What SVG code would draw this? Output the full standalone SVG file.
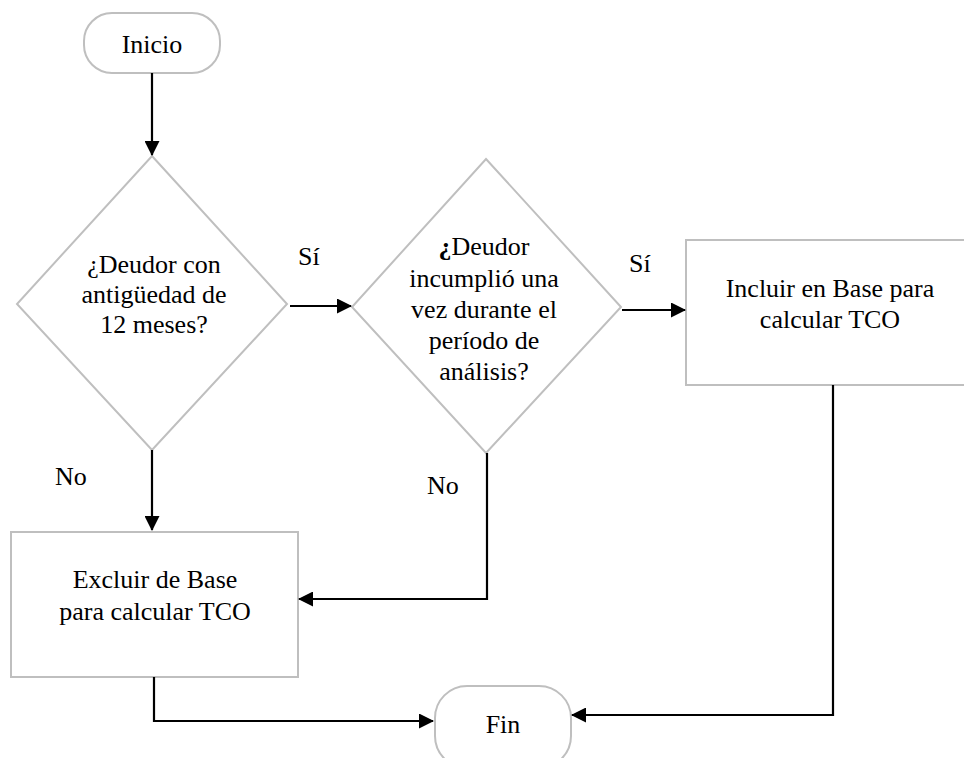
<svg xmlns="http://www.w3.org/2000/svg" width="964" height="758" viewBox="0 0 964 758">
<defs>
<marker id="ah" markerWidth="15" markerHeight="15" refX="14" refY="7.5" orient="auto" markerUnits="userSpaceOnUse">
<path d="M0,0 L15,7.5 L0,15 Z" fill="#000"/>
</marker>
<style>
.shape{fill:#fff;stroke:#bfbfbf;stroke-width:2}
.conn{fill:none;stroke:#000;stroke-width:2.2}
.t{font-size:26px;fill:#000}
.c{text-anchor:middle}
</style>
</defs>
<rect width="964" height="758" fill="#fff"/>
<g font-family="'Liberation Serif', 'Times New Roman', 'DejaVu Serif', serif">
<g id="inicio">
<rect class="shape" x="84" y="13" width="136" height="60" rx="28" ry="28"/>
<text class="t c" x="152" y="53">Inicio</text>
</g>
<g id="decision1">
<polygon class="shape" points="152,156 287,304 152,450 17,304"/>
<text class="t c" x="154" y="273">¿Deudor con</text>
<text class="t c" x="154" y="303">antigüedad de</text>
<text class="t c" x="154" y="333">12 meses?</text>
</g>
<g id="decision2">
<polygon class="shape" points="486,159 621,307 486,453 352,307"/>
<text class="t c" x="484" y="255"><tspan font-weight="bold">¿</tspan>Deudor</text>
<text class="t c" x="484" y="287">incumplió una</text>
<text class="t c" x="484" y="318">vez durante el</text>
<text class="t c" x="484" y="349">período de</text>
<text class="t c" x="484" y="380">análisis?</text>
</g>
<g id="incluir">
<rect class="shape" x="686" y="240" width="290" height="145"/>
<text class="t c" x="830" y="297">Incluir en Base para</text>
<text class="t c" x="830" y="328">calcular TCO</text>
</g>
<g id="excluir">
<rect class="shape" x="11" y="532" width="287" height="145"/>
<text class="t c" x="155" y="588">Excluir de Base</text>
<text class="t c" x="155" y="620">para calcular TCO</text>
</g>
<g id="fin">
<rect class="shape" x="435" y="686" width="136" height="82" rx="32" ry="32"/>
<text class="t c" x="503" y="733">Fin</text>
</g>
<g id="connectors">
<path class="conn" d="M152,73 V155" marker-end="url(#ah)"/>
<path class="conn" d="M290,306 H351" marker-end="url(#ah)"/>
<path class="conn" d="M622,310 H685" marker-end="url(#ah)"/>
<path class="conn" d="M152,450 V530" marker-end="url(#ah)"/>
<path class="conn" d="M487,453 V599 H299" marker-end="url(#ah)"/>
<path class="conn" d="M154,677 V721 H433" marker-end="url(#ah)"/>
<path class="conn" d="M833,385 V715 H572" marker-end="url(#ah)"/>
</g>
<g id="labels">
<text class="t" x="298" y="265">Sí</text>
<text class="t" x="629" y="272">Sí</text>
<text class="t" x="55" y="485">No</text>
<text class="t" x="427" y="494">No</text>
</g>
</g>
</svg>
